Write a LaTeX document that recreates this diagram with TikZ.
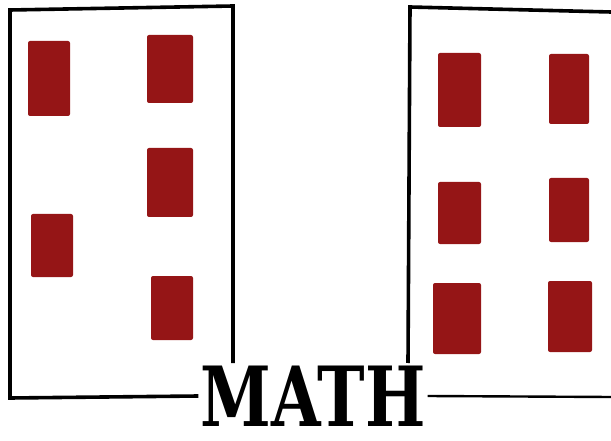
\documentclass[tikz,border=0pt]{standalone}
\usepackage{fontspec}
\newfontfamily\mathfont{DejaVu Serif}
\usepackage{xcolor}
\definecolor{PipRed}{RGB}{149,21,22}

\begin{document}
\begin{tikzpicture}[
x=1pt,y=-1pt,
pip/.style={
rectangle,rounded corners=2pt,fill=PipRed,inner sep=0pt
},
card/.style={line width=3.6pt,draw=black,line join=miter},
title/.style={font={\mathfont\bfseries\fontsize{83}{83}\selectfont},inner sep=2pt}
]
\useasboundingbox (0,0) rectangle (611,441);

\node[title] (math) at (313,396) {\scalebox{0.77}[1]{MATH}};

% left card
\node[pip,minimum width=42,minimum height=75] (l1) at (49,78.5) {};
\node[pip,minimum width=46,minimum height=68] (l2) at (170,69) {};
\node[pip,minimum width=46,minimum height=69] (l3) at (170,182.5) {};
\node[pip,minimum width=42,minimum height=63] (l4) at (52,245.5) {};
\node[pip,minimum width=42,minimum height=64] (l5) at (172,308) {};

% right card
\node[pip,minimum width=43,minimum height=74] (r1) at (459.5,90) {};
\node[pip,minimum width=40,minimum height=70] (r2) at (569,89) {};
\node[pip,minimum width=43,minimum height=62] (r3) at (459.5,213) {};
\node[pip,minimum width=40,minimum height=64] (r4) at (569,210) {};
\node[pip,minimum width=48,minimum height=71] (r5) at (457,318.5) {};
\node[pip,minimum width=44,minimum height=71] (r6) at (570,316.5) {};

\draw[card] (math.west) -- (10,398) -- (10,10) -- (233,6) -- (233,363);
\draw[card] (408,363) -- (410,7) -- (611,12);
\draw[card,line width=2.4pt] (math.east) -- (611,397);

\end{tikzpicture}
\end{document}
